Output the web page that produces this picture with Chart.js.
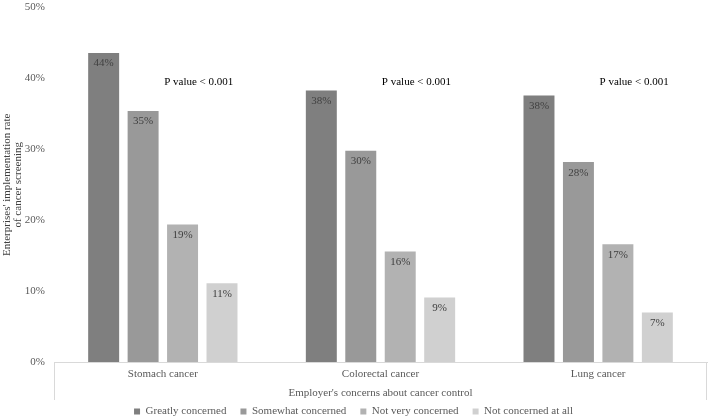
<!DOCTYPE html>
<html>
<head>
<meta charset="utf-8">
<script src="https://cdn.jsdelivr.net/npm/chart.js@4.4.1/dist/chart.umd.min.js"></script>
<style>
  html, body { margin: 0; padding: 0; background: #fff; }
  #wrap { width: 709px; height: 420px; }
</style>
</head>
<body>
<div id="wrap"><canvas id="chart"></canvas></div>
<script>
const cancers = ["Stomach cancer", "Colorectal cancer", "Lung cancer"];
const concernLevels = ["Greatly concerned", "Somewhat concerned", "Not very concerned", "Not concerned at all"];
const greatly = [43.6, 38.3, 37.6];
const somewhat = [35.4, 29.8, 28.2];
const notVery = [19.4, 15.6, 16.6];
const notAtAll = [11.1, 9.1, 7.0];
const pValues = ["P value < 0.001", "P value < 0.001", "P value < 0.001"];
const barColors = ["#7f7f7f", "#999999", "#b2b2b2", "#d0d0d0"];

const serif = "'Liberation Serif', 'DejaVu Serif', serif";

const barLabels = {
  id: "barLabels",
  afterDatasetsDraw(chart) {
    const ctx = chart.ctx;
    ctx.save();
    ctx.font = "11px " + serif;
    ctx.fillStyle = "#404040";
    ctx.textAlign = "center";
    ctx.textBaseline = "top";
    chart.data.datasets.forEach((ds, i) => {
      chart.getDatasetMeta(i).data.forEach((bar, j) => {
        ctx.fillText(Math.round(ds.data[j]) + "%", bar.x, bar.y + 5);
      });
    });
    ctx.restore();
  }
};

const pValueText = {
  id: "pValueText",
  afterDatasetsDraw(chart) {
    const ctx = chart.ctx;
    const x = chart.scales.x;
    const y = chart.scales.y;
    ctx.save();
    ctx.font = "11px " + serif;
    ctx.fillStyle = "#000000";
    ctx.textAlign = "center";
    ctx.textBaseline = "middle";
    pValues.forEach((t, i) => {
      const half = (x.getPixelForValue(1) - x.getPixelForValue(0)) / 2;
      ctx.fillText(t, x.getPixelForValue(i) + half * 0.33, y.getPixelForValue(39.5));
    });
    ctx.restore();
  }
};

const axisBox = {
  id: "axisBox",
  afterDraw(chart) {
    const ctx = chart.ctx;
    const a = chart.chartArea;
    ctx.save();
    ctx.strokeStyle = "#d9d9d9";
    ctx.lineWidth = 1;
    ctx.beginPath();
    ctx.moveTo(a.left + 0.5, a.bottom);
    ctx.lineTo(a.left + 0.5, a.bottom + 38);
    ctx.moveTo(a.right - 0.5, a.bottom);
    ctx.lineTo(a.right - 0.5, a.bottom + 38);
    ctx.stroke();
    ctx.restore();
  }
};

const datasets = [greatly, somewhat, notVery, notAtAll].map((d, i) => ({
  label: concernLevels[i],
  data: d,
  backgroundColor: barColors[i],
  borderWidth: 0,
  categoryPercentage: 0.725,
  barPercentage: 0.785
}));

new Chart(document.getElementById("chart"), {
  type: "bar",
  data: { labels: cancers, datasets: datasets },
  plugins: [barLabels, pValueText, axisBox],
  options: {
    responsive: true,
    maintainAspectRatio: false,
    animation: false,
    layout: { padding: { top: 0, right: 2, bottom: -7, left: 0 } },
    plugins: {
      tooltip: { enabled: false },
      legend: {
        position: "bottom",
        labels: {
          boxWidth: 6,
          boxHeight: 6,
          padding: 14,
          color: "#595959",
          font: { family: serif, size: 11 }
        }
      }
    },
    scales: {
      x: {
        afterFit: (s) => { s.height = 30; },
        grid: { display: false, drawTicks: false },
        border: { color: "#d9d9d9" },
        ticks: { color: "#595959", font: { family: serif, size: 11 }, padding: 6 },
        title: {
          display: true,
          text: "Employer's concerns about cancer control",
          color: "#595959",
          font: { family: serif, size: 11 },
          padding: { top: 0, bottom: -8 }
        }
      },
      y: {
        min: 0,
        max: 50,
        afterFit: (s) => { s.width = 54; },
        grid: { display: false },
        border: { display: false },
        ticks: {
          stepSize: 10,
          color: "#595959",
          font: { family: serif, size: 11 },
          padding: 1,
          callback: (v) => v + "%"
        },
        title: {
          display: true,
          text: ["Enterprises' implementation rate", "of cancer screening"],
          color: "#404040",
          font: { family: serif, size: 11, lineHeight: 1.0 },
          padding: { top: 2, bottom: 0 }
        }
      }
    }
  }
});
</script>
</body>
</html>
